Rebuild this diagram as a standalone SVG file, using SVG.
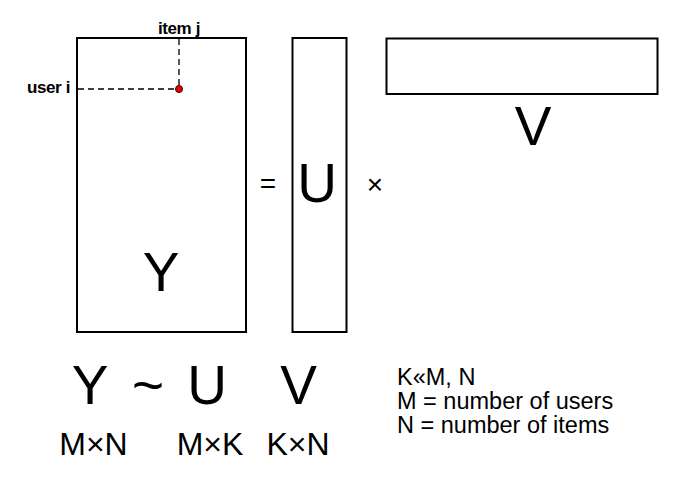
<svg xmlns="http://www.w3.org/2000/svg" width="680" height="480" viewBox="0 0 680 480">
<style>
.box{fill:none;stroke:#000;stroke-width:2}
.dash{fill:none;stroke:#000;stroke-width:1.3;stroke-dasharray:6 4}
text{font-family:"Liberation Sans",Arial,sans-serif;fill:#000}
.big{font-size:55px;text-anchor:middle}
.op{font-size:28px;text-anchor:middle}
.dim{font-size:32px;text-anchor:middle}
.note{font-size:23.5px}
.small{font-size:17px;font-weight:bold;letter-spacing:-0.4px}
</style>
<rect width="680" height="480" fill="#fff"/>
<g id="matrix-Y">
<rect class="box" x="77" y="38" width="169" height="294"/>
<text class="big" x="161" y="291">Y</text>
</g>
<g id="matrix-U">
<rect class="box" x="292.5" y="38" width="54" height="294"/>
<text class="big" x="317" y="202">U</text>
</g>
<g id="matrix-V">
<rect class="box" x="386.5" y="38.5" width="271" height="55.5"/>
<text class="big" x="533" y="145">V</text>
</g>
<g id="operators">
<text class="op" x="268" y="193">=</text>
<text class="op" x="375" y="194">×</text>
</g>
<g id="connectors">
<line class="dash" x1="78" y1="89" x2="179" y2="89"/>
<line class="dash" x1="179" y1="39" x2="179" y2="89"/>
</g>
<g id="entry">
<circle cx="179" cy="89" r="3.5" fill="#e00" stroke="#300" stroke-width="1"/>
<text class="small" x="70" y="93" text-anchor="end">user i</text>
<text class="small" x="179" y="34" text-anchor="middle">item j</text>
</g>
<g id="formula">
<text class="big" x="90" y="404">Y</text>
<text class="big" x="148" y="404">~</text>
<text class="big" x="207" y="404">U</text>
<text class="big" x="298.5" y="404">V</text>
<text class="dim" x="93.5" y="455">M×N</text>
<text class="dim" x="210" y="455">M×K</text>
<text class="dim" x="298" y="455">K×N</text>
</g>
<g id="legend">
<text class="note" x="397" y="385">K«M, N</text>
<text class="note" x="397" y="409">M = number of users</text>
<text class="note" x="397" y="433">N = number of items</text>
</g>
</svg>
